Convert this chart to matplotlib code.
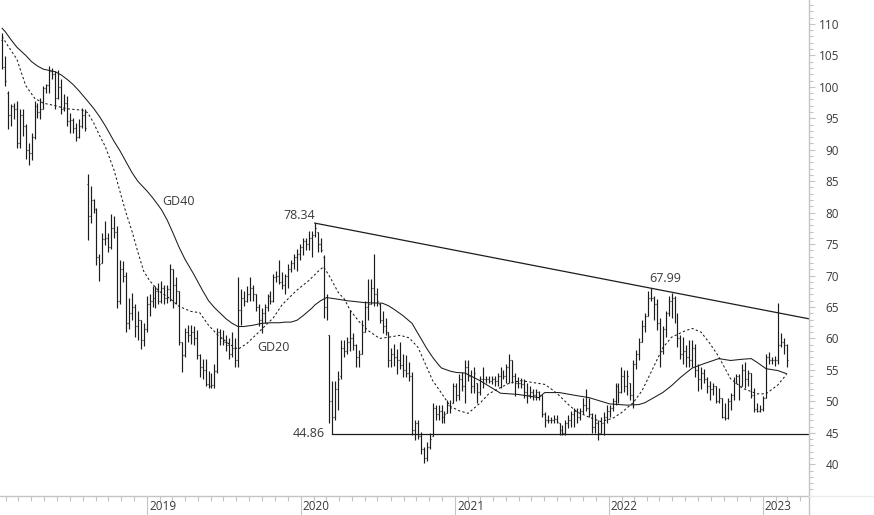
import numpy as np
import pandas as pd
import matplotlib
matplotlib.use("Agg")
import matplotlib.pyplot as plt
import matplotlib.dates as mdates
import matplotlib.transforms as mtrans
from matplotlib.lines import Line2D

# ---------------- data (weekly OHLC) ----------------
start_date = "2018-01-22"

highs = [108.6,104.9,99.4,97.3,97.5,97.8,96.5,96.5,94.1,91.1,92.7,97.8,97.5,98.3,100.2,100.5,103.3,103.0,102.5,102.7,
         101.3,98.9,98.6,95.9,95.1,94.3,94.9,96.7,96.5,86.2,84.3,82.2,80.8,73.5,76.8,78.7,76.8,79.8,79.5,77.9,
         72.5,72.3,70.5,66.5,67.3,65.5,64.4,63.0,62.5,66.8,67.0,68.4,68.4,68.8,69.2,68.5,68.5,71.9,71.0,69.7,
         67.5,59.5,61.6,62.1,62.1,62.0,61.3,57.6,56.8,56.8,54.9,54.5,56.0,61.7,61.5,61.3,60.5,60.0,61.0,60.0,
         69.7,67.9,67.6,68.4,69.7,68.5,67.1,65.5,64.9,65.5,67.1,67.5,70.3,70.8,72.4,70.5,70.3,71.9,72.5,73.5,
         74.3,75.0,76.0,76.0,77.1,77.1,78.34,77.0,75.9,73.2,67.1,60.5,53.3,53.3,54.9,59.7,59.7,60.2,64.5,60.8,
         59.2,58.1,62.9,66.0,69.5,69.5,73.5,68.1,65.7,64.4,63.3,61.0,58.5,59.2,58.4,59.4,57.6,57.3,56.2,54.6,
         47.0,47.0,45.1,42.7,43.5,44.9,49.7,49.4,49.4,49.4,48.5,50.2,50.2,53.0,53.0,54.4,54.6,56.5,56.5,55.0,
         55.4,53.0,54.0,55.4,54.1,54.1,54.0,54.0,54.5,55.4,55.0,56.0,57.6,56.5,54.5,53.8,53.7,53.5,52.9,52.5,
         52.0,52.0,51.7,51.0,48.3,47.8,47.5,47.8,47.8,46.5,46.2,47.0,47.8,48.5,49.0,49.0,49.0,50.5,52.0,50.5,
         48.1,48.0,47.0,47.5,48.3,49.4,49.5,50.5,52.9,53.0,55.4,55.0,55.0,53.0,56.5,58.1,60.0,62.9,64.0,67.6,
         67.99,66.8,66.3,63.3,62.0,64.4,66.8,67.3,66.8,64.0,60.5,60.2,58.9,59.7,59.7,59.2,56.0,55.4,55.2,53.8,
         53.3,53.0,52.5,52.2,50.5,49.7,50.5,51.3,53.8,54.4,54.4,56.0,56.2,55.0,54.5,52.2,49.7,49.5,50.9,57.6,
         57.8,57.0,57.2,65.6,60.8,60.0,59.2]

lows = [102.9,100.2,93.3,93.8,94.9,90.2,90.2,92.2,88.6,87.5,88.3,91.7,95.1,94.9,96.5,99.0,99.0,101.3,96.5,98.0,
        95.7,96.2,93.8,92.7,92.7,91.4,91.8,93.5,93.0,75.6,78.3,80.0,71.6,69.2,72.0,74.8,73.7,74.3,75.9,64.8,
        65.5,69.0,61.0,61.5,63.0,60.2,59.8,58.4,58.8,61.0,63.5,65.0,64.8,65.5,65.7,65.5,65.7,66.0,64.9,65.5,
        58.9,54.6,57.0,59.5,59.2,59.0,56.8,53.8,53.5,52.5,52.2,52.1,52.1,54.5,59.0,59.0,58.0,56.8,57.0,55.4,
        55.5,62.1,65.2,65.8,66.0,66.0,64.4,62.0,60.8,62.5,64.4,65.5,65.8,69.0,68.7,67.9,67.1,68.1,70.5,71.0,
        70.8,72.5,73.2,74.0,74.0,73.0,76.2,73.7,73.7,63.2,62.9,46.5,44.86,47.0,48.6,53.5,57.0,57.6,58.0,58.1,
        55.4,55.4,57.5,61.0,62.9,65.5,65.2,65.2,62.4,60.8,60.5,55.5,55.5,55.7,54.4,55.2,53.8,53.8,53.3,44.6,
        43.8,44.0,41.7,40.2,40.5,42.5,44.5,47.0,47.0,46.5,46.5,48.1,48.1,49.7,50.0,50.2,51.7,49.7,53.3,51.3,
        51.3,49.8,51.0,52.2,52.9,52.9,52.8,52.5,52.5,52.2,53.5,53.0,52.9,53.0,50.9,52.2,52.2,50.6,49.7,50.5,
        50.2,50.2,50.2,47.5,45.9,46.5,46.5,46.5,46.5,44.6,44.6,44.6,45.7,46.0,45.9,46.5,47.0,48.0,48.5,47.5,
        44.9,45.0,43.8,45.0,44.6,46.5,47.5,48.5,49.4,49.7,51.3,51.5,51.0,50.2,49.0,55.2,56.5,59.5,61.0,63.5,
        66.0,63.0,61.3,55.4,57.5,60.2,63.5,63.2,62.5,58.6,56.8,56.0,55.4,55.4,55.4,53.8,51.7,52.0,52.9,51.3,
        50.2,51.0,49.7,49.7,47.3,47.0,47.2,48.6,50.2,52.9,50.2,52.5,52.2,52.5,50.5,48.3,48.3,48.3,48.5,50.6,
        56.0,56.0,55.7,56.0,58.6,57.5,55.4]

closes = [103.2,101.0,95.5,97.0,96.5,91.0,95.5,93.7,90.0,89.5,92.0,97.0,96.0,96.5,99.8,100.3,102.5,102.0,98.2,100.0,
          96.5,97.5,94.5,94.7,93.5,92.0,93.8,95.5,93.5,79.5,82.0,80.5,73.0,71.9,75.8,76.0,74.5,77.5,77.0,66.0,
          71.0,70.0,62.5,64.0,65.0,62.0,63.0,59.7,61.5,65.5,66.0,66.5,67.5,66.0,68.0,66.5,67.8,71.0,68.5,67.5,
          59.5,57.3,61.0,60.5,61.0,60.0,57.3,55.5,55.0,52.8,52.5,52.6,54.9,61.0,60.0,59.5,59.0,57.5,58.5,56.5,
          64.5,66.5,66.0,67.0,68.0,67.0,65.0,63.0,64.0,65.0,66.8,66.0,69.8,70.0,69.0,68.5,70.0,71.0,72.0,73.0,
          73.5,74.5,75.5,75.0,76.0,76.5,77.5,75.0,74.0,65.0,63.5,50.0,47.5,52.0,53.5,58.5,58.0,59.5,60.0,59.0,
          57.0,57.5,61.0,65.0,65.5,68.0,67.0,66.0,63.0,62.0,61.0,56.5,57.5,57.0,56.5,55.8,55.0,54.5,54.0,45.5,
          46.5,44.5,42.5,41.0,42.8,44.0,49.0,48.0,48.5,47.5,48.0,49.5,49.0,52.5,51.0,53.5,52.5,55.5,54.0,52.5,
          54.5,51.5,53.5,53.5,53.5,53.3,53.5,53.3,54.0,54.5,54.0,55.5,56.5,54.0,53.0,53.0,52.8,51.5,51.0,51.5,
          51.0,51.5,51.0,48.0,47.0,47.0,47.0,47.2,46.8,45.5,45.0,46.5,47.0,48.0,48.5,47.5,48.5,49.5,49.0,48.0,
          46.0,46.5,45.0,46.5,47.5,48.5,49.0,50.0,52.5,51.5,54.0,52.5,54.0,51.0,56.0,57.5,59.5,62.0,63.5,66.5,
          66.5,65.5,62.5,58.0,61.5,64.0,66.0,66.5,63.5,60.0,57.5,58.0,57.0,56.5,58.5,55.0,53.5,54.5,53.5,52.5,
          52.0,52.5,50.0,50.5,47.5,47.3,50.0,51.0,53.0,54.0,52.5,55.0,53.5,54.5,51.0,48.8,48.5,48.8,50.5,57.0,
          56.5,56.5,56.5,59.0,59.5,59.0,56.5]

opens = [107.5,103.2,99.0,95.5,97.0,96.5,91.0,95.5,93.7,90.0,89.5,92.0,97.0,96.0,96.5,99.8,100.3,102.5,102.0,98.2,
         100.0,96.5,97.5,94.5,94.7,93.5,92.0,93.8,95.5,84.5,79.5,82.0,80.5,73.0,72.0,75.8,76.0,74.5,77.5,77.0,
         66.0,71.0,70.0,62.5,64.0,65.0,62.0,63.0,59.7,61.5,65.5,66.0,66.5,67.5,66.0,68.0,66.5,67.8,71.0,68.5,
         67.5,59.5,57.3,61.0,60.5,61.0,60.0,57.3,55.5,55.0,52.8,52.5,52.6,54.9,61.0,60.0,59.5,59.0,57.5,58.5,
         56.5,64.5,66.5,66.0,67.0,68.0,67.0,65.0,63.0,64.0,65.0,66.8,66.0,69.8,70.0,69.0,68.5,70.0,71.0,72.0,
         73.0,73.5,74.5,75.5,75.0,76.0,76.5,77.0,75.0,73.0,65.0,60.5,50.0,47.5,52.0,54.0,58.5,58.0,59.5,60.0,
         59.0,57.0,57.5,61.0,65.0,65.5,68.0,67.0,65.5,63.0,62.0,61.0,56.5,57.5,57.0,56.5,55.8,55.0,54.5,54.0,
         45.5,46.5,44.5,42.5,41.0,42.8,44.5,49.0,48.0,48.5,47.5,48.1,49.5,49.7,52.5,51.0,53.5,52.5,55.5,54.0,
         52.5,53.0,51.5,53.5,53.5,53.5,53.3,53.5,53.3,54.0,54.5,54.0,55.5,56.5,54.0,53.0,53.0,52.8,51.5,51.0,
         51.5,51.0,51.5,51.0,48.0,47.0,47.0,47.0,47.2,46.5,45.5,45.0,46.5,47.0,48.0,48.5,47.5,48.5,49.5,49.0,
         48.0,46.0,46.5,45.0,46.5,47.5,48.5,49.0,50.0,52.5,51.5,54.0,52.5,53.0,51.0,56.0,57.5,59.5,62.0,63.5,
         66.5,66.5,65.5,62.5,58.0,61.5,64.0,66.0,66.5,63.5,60.0,57.5,58.0,57.0,56.5,58.5,55.0,53.5,54.5,53.5,
         52.5,52.0,52.5,50.0,50.5,47.5,47.3,50.0,51.0,53.0,54.0,52.5,55.0,53.5,54.5,51.0,48.8,48.5,48.8,50.6,
         57.0,56.5,56.5,56.5,59.0,59.5,59.0]

# moving averages (week index -> value)
gd40_weeks = [0, 1, 3, 5, 8, 10, 12, 14, 16, 18, 20, 22, 24, 26, 28, 31, 33, 35, 38, 40, 42, 44, 46, 49, 51, 54,
              56, 58, 60, 62, 65, 68, 70, 72, 74, 76, 78, 80, 82, 85, 88, 91, 94, 96, 98, 100, 102, 103, 105, 106,
              108, 110, 113, 117, 123, 129, 131, 133, 136, 139, 142, 144, 146, 148, 149, 152, 154, 157, 162, 169,
              175, 182, 184, 189, 195, 199, 206, 212, 216, 218, 221, 224, 227, 230, 234, 238, 243, 247, 251, 254,
              256, 259, 263, 266]
gd40_vals = [109.3, 108.8, 107.5, 106.3, 105.0, 104.0, 103.3, 102.8, 102.6, 102.4, 101.9, 101.2, 100.4, 99.4,
             98.3, 96.6, 95.3, 93.8, 91.3, 89.8, 88.1, 86.4, 85.0, 83.5, 82.4, 80.5, 78.8, 76.7, 74.5, 72.6, 70.2,
             67.6, 66.0, 64.9, 64.0, 63.1, 62.4, 61.9, 61.9, 62.1, 62.4, 62.5, 62.5, 62.6, 62.6, 62.9, 63.6, 64.0,
             64.8, 65.3, 66.0, 66.5, 66.3, 66.0, 65.7, 65.6, 65.2, 64.6, 63.6, 62.4, 60.0, 58.4, 57.0, 55.8, 55.3,
             54.8, 54.6, 54.5, 53.3, 51.3, 51.1, 50.6, 51.4, 51.4, 50.9, 50.6, 49.6, 49.4, 49.5, 49.8, 50.6, 51.4,
             52.5, 53.8, 55.3, 56.0, 56.8, 56.5, 56.7, 56.8, 56.2, 55.2, 54.9, 54.4]

gd20_weeks = [0, 2, 5, 8, 11, 14, 18, 22, 27, 29, 31, 33, 35, 38, 40, 42, 44, 46, 48, 50, 53, 57, 60, 64, 67,
              70, 73, 77, 80, 83, 87, 92, 95, 100, 104, 107, 109, 111, 114, 116, 118, 121, 124, 128, 131, 135, 138,
              141, 143, 146, 149, 152, 155, 158, 162, 165, 169, 172, 176, 180, 184, 187, 189, 192, 195, 199, 203,
              207, 210, 214, 217, 220, 224, 227, 231, 234, 237, 240, 243, 247, 251, 256, 259, 263, 266]
gd20_vals = [108.0, 106.5, 104.4, 100.2, 98.2, 97.4, 97.0, 96.5, 96.3, 95.9, 94.3, 92.3, 90.5, 86.7, 83.3, 80.0,
             77.1, 73.8, 70.7, 69.2, 67.6, 66.3, 65.1, 64.3, 64.1, 62.1, 60.6, 59.1, 58.3, 59.2, 61.0, 63.3, 65.4,
             67.7, 69.2, 70.6, 71.4, 69.9, 67.3, 66.3, 64.5, 62.7, 61.3, 60.0, 60.2, 60.5, 60.1, 58.6, 56.5, 53.3,
             51.3, 49.2, 48.5, 48.1, 49.7, 51.2, 52.2, 52.9, 53.3, 53.0, 52.7, 51.7, 50.9, 49.5, 48.3, 47.5, 46.8,
             47.3, 48.2, 49.8, 51.7, 54.6, 58.5, 60.2, 61.1, 61.6, 61.0, 59.2, 57.1, 53.6, 52.1, 51.2, 51.2, 52.6,
             54.3]

peak_week, peak2_week, low_week = 106, 220, 112
peak_val, peak2_val, support_val = 78.34, 67.99, 44.86

y_ticks = [40, 45, 50, 55, 60, 65, 70, 75, 80, 85, 90, 95, 100, 105, 110]

# ---------------- figure ----------------
W, H = 874, 515
fig = plt.figure(figsize=(W / 100, H / 100), dpi=100)
ax_left, ax_right, ax_top, ax_bottom = 0, 808.5, 0, 496
ax = fig.add_axes([ax_left / W, 1 - ax_bottom / H, (ax_right - ax_left) / W, (ax_bottom - ax_top) / H])

font = ["Open Sans", "DejaVu Sans"]
txt_color = "#3a3a3a"
bar_color = "#1c1c1c"
grid_color = "#c4c4c4"

dates = pd.date_range(start_date, periods=len(closes), freq="7D")
xd = mdates.date2num(dates.to_pydatetime())

o = np.clip(np.array(opens), lows, highs)
half = 2.3  # days for open/close ticks
ax.vlines(xd, lows, highs, color=bar_color, lw=0.85)
ax.hlines(o, xd - half, xd, color=bar_color, lw=0.85)
ax.hlines(closes, xd, xd + half, color=bar_color, lw=0.85)

ax.plot(xd[gd40_weeks], gd40_vals, color=bar_color, lw=0.75)
ax.plot(xd[gd20_weeks], gd20_vals, color=bar_color, lw=0.75, linestyle=(0, (2.2, 2.2)))

xmin = mdates.date2num(pd.Timestamp("2018-01-17"))
xmax = mdates.date2num(pd.Timestamp("2023-04-20"))

# trend line through the two peaks, extended to the right edge
x1, x2 = xd[peak_week], xd[peak2_week]
slope = (peak2_val - peak_val) / (x2 - x1)
ax.plot([x1, xmax], [peak_val, peak_val + slope * (xmax - x1)], color=bar_color, lw=0.9)
# support line
ax.plot([xd[low_week], xmax], [support_val, support_val], color=bar_color, lw=0.9)

ax.set_xlim(xmin, xmax)
ax.set_ylim(34.96, 113.8)

# annotations
ax.annotate(f"{peak_val:.2f}", (x1, peak_val), xytext=(0.5, 3), textcoords="offset points",
            ha="right", va="baseline", fontsize=9, color=txt_color, family=font)
ax.annotate(f"{peak2_val:.2f}", (x2, peak2_val), xytext=(-1, 4.2), textcoords="offset points",
            ha="left", va="baseline", fontsize=9, color=txt_color, family=font)
ax.annotate(f"{support_val:.2f}", (xd[low_week], support_val), xytext=(-5.5, 0), textcoords="offset points",
            ha="right", va="center", fontsize=9, color=txt_color, family=font)
ax.text(mdates.date2num(pd.Timestamp("2019-02-05")), 81.8, "GD40", ha="left", va="center",
        fontsize=9, color=txt_color, family=font)
ax.text(mdates.date2num(pd.Timestamp("2019-09-19")), 58.5, "GD20", ha="left", va="center",
        fontsize=9, color=txt_color, family=font)

# spines
for s in ["top", "left"]:
    ax.spines[s].set_visible(False)
for s in ["right", "bottom"]:
    ax.spines[s].set_color(grid_color)
    ax.spines[s].set_linewidth(1.0)

# y axis on the right
ax.yaxis.tick_right()
ax.set_yticks(y_ticks)
ax.yaxis.set_minor_locator(matplotlib.ticker.MultipleLocator(1))
ax.tick_params(axis="y", which="major", length=4.5, width=0.8, color=grid_color, pad=17.5,
               labelsize=8.5, labelcolor=txt_color, right=True, left=False, labelright=True, labelleft=False)
ax.tick_params(axis="y", which="minor", length=3, width=0.8, color=grid_color, right=True, left=False)
for lab in ax.get_yticklabels():
    lab.set_family(font)

# x axis
ax.xaxis.set_major_locator(mdates.YearLocator())
ax.xaxis.set_minor_locator(mdates.MonthLocator())
ax.tick_params(axis="x", which="major", length=19, width=0.8, color=grid_color, labelbottom=False)
ax.tick_params(axis="x", which="minor", length=3.5, width=0.8, color=grid_color)
blend = mtrans.blended_transform_factory(ax.transData, ax.transAxes)
off = mtrans.ScaledTranslation(2.0 / 100, 0, fig.dpi_scale_trans)
for yr in range(2019, 2024):
    ax.text(mdates.date2num(pd.Timestamp(f"{yr}-01-01")), -10.5 / 496, str(yr), transform=blend + off,
            ha="left", va="center", fontsize=8.5, color=txt_color, family=font)

# extensions of the axis lines outside the plot
fig.add_artist(Line2D([ax_right / W, ax_right / W], [0, 1 - ax_bottom / H], color=grid_color, lw=1.0))
fig.add_artist(Line2D([ax_right / W, 1], [1 - ax_bottom / H, 1 - ax_bottom / H], color="#ececec", lw=1.0))

fig.canvas.draw()
for lab in ax.get_yticklabels():
    lab.set_horizontalalignment("right")

fig.savefig("out.png", dpi=100, facecolor="white")
